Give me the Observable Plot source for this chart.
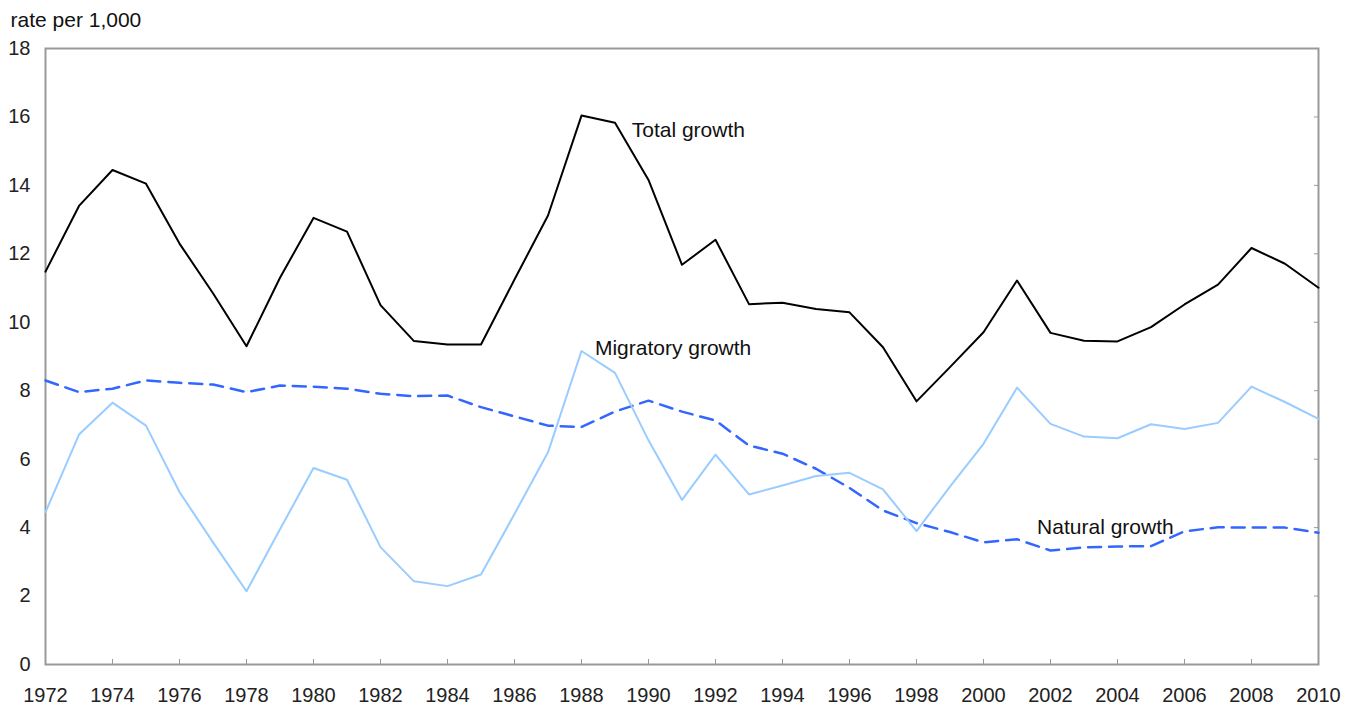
<!DOCTYPE html>
<html>
<head>
<meta charset="utf-8">
<script src="https://cdn.jsdelivr.net/npm/d3@7"></script>
<script src="https://cdn.jsdelivr.net/npm/@observablehq/plot@0.6"></script>
<style>
  html, body { margin: 0; padding: 0; background: #fff; }
  #chart svg { display: block; }
</style>
</head>
<body>
<div id="chart"></div>
<script>
const years = d3.range(1972, 2011);
const totalGrowth = [11.48, 13.4, 14.45, 14.05, 12.3, 10.85, 9.3, 11.3, 13.05, 12.65,
  10.5, 9.45, 9.35, 9.35, 11.25, 13.12, 16.04, 15.83, 14.16, 11.68,
  12.41, 10.53, 10.57, 10.39, 10.29, 9.27, 7.69, 8.69, 9.71, 11.22,
  9.69, 9.46, 9.44, 9.86, 10.52, 11.1, 12.17, 11.71, 11.01];
const migratoryGrowth = [4.45, 6.72, 7.65, 6.98, 5.04, 3.57, 2.14, 3.95, 5.74, 5.4,
  3.43, 2.43, 2.29, 2.63, 4.4, 6.2, 9.16, 8.52, 6.55, 4.81,
  6.13, 4.97, 5.23, 5.51, 5.6, 5.12, 3.9, 5.2, 6.45, 8.09,
  7.03, 6.66, 6.61, 7.02, 6.88, 7.06, 8.12, 7.67, 7.18];
const naturalGrowth = [8.3, 7.96, 8.06, 8.3, 8.23, 8.18, 7.96, 8.15, 8.12, 8.06,
  7.91, 7.84, 7.86, 7.52, 7.25, 6.98, 6.94, 7.39, 7.71, 7.39,
  7.13, 6.4, 6.16, 5.72, 5.16, 4.5, 4.13, 3.87, 3.57, 3.66,
  3.33, 3.42, 3.45, 3.46, 3.89, 4.01, 4.0, 4.0, 3.85];
const seriesLabels = ["Total growth", "Migratory growth", "Natural growth"];
const labelYears = [1989.5, 1988.4, 2001.6];
const labelValues = [15.62, 9.25, 4.02];
const xTicks = d3.range(1972, 2011, 2);
const yTicks = d3.range(0, 19, 2);
const yTitle = "rate per 1,000";

const toRows = vals => years.map((y, i) => ({year: y, value: vals[i]}));
const labelRows = seriesLabels.map((s, i) => ({text: s, year: labelYears[i], value: labelValues[i]}));

const font = "'Liberation Sans', Arial, Helvetica, sans-serif";

const chart = Plot.plot({
  width: 1354,
  height: 707,
  marginLeft: 45,
  marginRight: 36,
  marginTop: 48,
  marginBottom: 43,
  style: {fontFamily: font, fontSize: "20px", color: "#222", background: "#fff"},
  x: {domain: [1972, 2010]},
  y: {domain: [0, 18]},
  marks: [
    Plot.frame({stroke: "#999", strokeWidth: 2}),
    Plot.axisX({ticks: xTicks, tickFormat: d => String(d), tickSize: -5, tickPadding: 28, stroke: "#999", label: null, fontSize: 20, fill: "#222"}),
    Plot.axisY({ticks: yTicks, tickSize: 0, tickPadding: 15, label: null, fontSize: 20, fill: "#222"}),
    Plot.axisY({anchor: "right", ticks: yTicks, tickSize: -5, tickFormat: () => "", stroke: "#999", label: null}),
    Plot.line(toRows(naturalGrowth), {x: "year", y: "value", stroke: "#3366ff", strokeWidth: 2.5, strokeDasharray: "13,8"}),
    Plot.line(toRows(migratoryGrowth), {x: "year", y: "value", stroke: "#99ccff", strokeWidth: 2}),
    Plot.line(toRows(totalGrowth), {x: "year", y: "value", stroke: "#000", strokeWidth: 2}),
    Plot.text(labelRows, {x: "year", y: "value", text: "text", textAnchor: "start", fontSize: 21, fill: "#111"}),
    Plot.text([yTitle], {frameAnchor: "top-left", dx: -35, dy: -28, lineAnchor: "middle", textAnchor: "start", fontSize: 21, fill: "#111"})
  ]
});
document.getElementById("chart").appendChild(chart);
</script>
</body>
</html>
